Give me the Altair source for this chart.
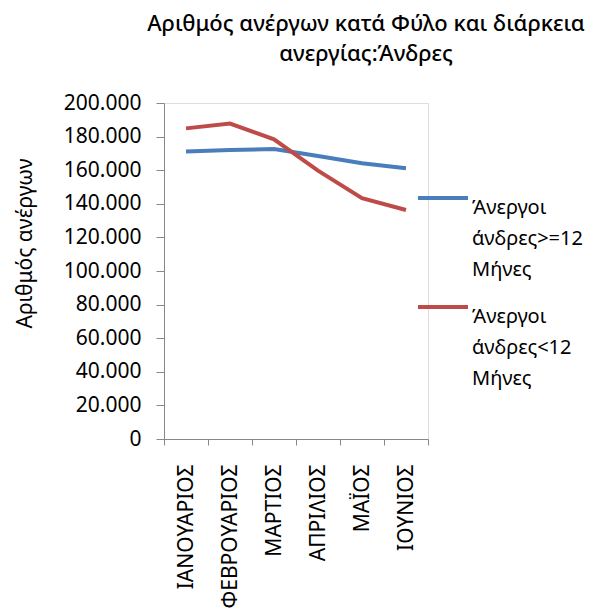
import altair as alt
import pandas as pd

months = ["ΙΑΝΟΥΑΡΙΟΣ", "ΦΕΒΡΟΥΑΡΙΟΣ", "ΜΑΡΤΙΟΣ", "ΑΠΡΙΛΙΟΣ", "ΜΑΪΟΣ", "ΙΟΥΝΙΟΣ"]
series_long = "Άνεργοι άνδρες>=12 Μήνες"
series_short = "Άνεργοι άνδρες<12 Μήνες"
long_values = [171200, 172000, 172600, 168500, 164100, 161100]
short_values = [184900, 187800, 178400, 159700, 143300, 136300]
y_ticks = [0, 20000, 40000, 60000, 80000, 100000, 120000, 140000, 160000, 180000, 200000]

rows = []
for m, v in zip(months, long_values):
    rows.append({"month": m, "series": series_long, "value": v})
for m, v in zip(months, short_values):
    rows.append({"month": m, "series": series_short, "value": v})
df = pd.DataFrame(rows)

FONT = "Noto Sans"

chart = alt.Chart(df).mark_line(strokeWidth=4).encode(
    x=alt.X("month:N", sort=months, title=None,
            axis=alt.Axis(labelAngle=-90, labelAlign="right", labelBaseline="middle",
                          labelFontSize=21, labelColor="#000000", labelPadding=19,
                          tickBand="extent", tickSize=6, tickColor="#888888",
                          domainColor="#888888", labelFont=FONT, labelLimit=300)),
    y=alt.Y("value:Q", title="Αριθμός ανέργων",
            scale=alt.Scale(domain=[0, 200000], nice=False),
            axis=alt.Axis(values=y_ticks, format=",.0f", grid=False,
                          labelFontSize=21, labelColor="#000000", labelFont=FONT,
                          labelPadding=15, tickSize=8, tickColor="#888888",
                          domainColor="#888888", titleFontSize=21,
                          titleFontWeight="normal", titleColor="#000000",
                          titleFont=FONT, titlePadding=28, titleY=140)),
    color=alt.Color("series:N", sort=[series_long, series_short],
                    scale=alt.Scale(domain=[series_long, series_short],
                                    range=["#4A7EBB", "#BE4B48"]),
                    legend=alt.Legend(title=None, symbolType="stroke",
                                      symbolSize=2500, symbolStrokeWidth=4,
                                      labelFontSize=20, labelFont=FONT,
                                      labelColor="#000000",
                                      labelExpr="split(datum.label, ' ')",
                                      labelBaseline="top", labelOffset=2,
                                      rowPadding=0, orient="none",
                                      legendX=252, legendY=68)),
).properties(
    width=264, height=336,
    title=alt.TitleParams(
        text=["Αριθμός ανέργων κατά Φύλο και διάρκεια", "ανεργίας:Άνδρες"],
        fontSize=22, fontWeight=500, font=FONT, color="#000000",
        lineHeight=30, anchor="middle", offset=26, dx=70),
    padding={"left": 6, "top": 5, "right": 5, "bottom": 5},
).configure_view(stroke=None).configure(
    locale={"number": {"decimal": ",", "thousands": ".", "grouping": [3],
                       "currency": ["", "€"]}},
    style={"guide-label": {"lineHeight": 31}},
)

chart.save("out.html", embed_options={"renderer": "svg", "actions": False})
